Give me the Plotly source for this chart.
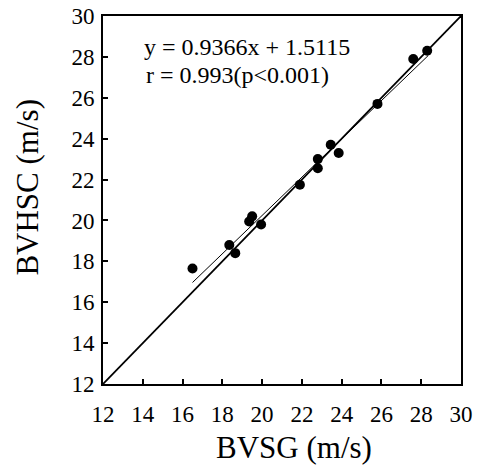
import plotly.graph_objects as go

# Data
bvsg = [16.5, 18.35, 18.65, 19.35, 19.5, 19.95, 21.9, 22.8, 22.8, 23.45, 23.85, 25.8, 27.6, 28.3]
bvhsc = [17.65, 18.8, 18.4, 19.95, 20.2, 19.8, 21.75, 22.55, 23.0, 23.7, 23.3, 25.7, 27.9, 28.3]
slope = 0.9366
intercept = 1.5115
fit_x = [16.5, 28.35]
fit_y = [slope * v + intercept for v in fit_x]
identity = [12, 30]
ticks = [12, 14, 16, 18, 20, 22, 24, 26, 28, 30]
eq_text = "y = 0.9366x + 1.5115"
r_text = "r = 0.993(p<0.001)"
x_title = "BVSG (m/s)"
y_title = "BVHSC (m/s)"

FONT = "Liberation Serif, serif"

fig = go.Figure()
fig.add_trace(go.Scatter(x=identity, y=identity, mode="lines",
                         line=dict(color="black", width=1.8), hoverinfo="skip"))
fig.add_trace(go.Scatter(x=fit_x, y=fit_y, mode="lines",
                         line=dict(color="black", width=1), hoverinfo="skip"))
fig.add_trace(go.Scatter(x=bvsg, y=bvhsc, mode="markers",
                         marker=dict(color="black", size=10)))

fig.add_annotation(x=13.97, y=28.5, xref="x", yref="y", text=eq_text, showarrow=False,
                   xanchor="left", yanchor="middle", font=dict(family=FONT, size=24, color="black"))
fig.add_annotation(x=14.08, y=27.1, xref="x", yref="y", text=r_text, showarrow=False,
                   xanchor="left", yanchor="middle", font=dict(family=FONT, size=24, color="black"))

# axis titles placed as annotations to match the reference offsets
fig.add_annotation(x=0.533, y=-0.172, xref="paper", yref="paper", text=x_title, showarrow=False,
                   xanchor="center", yanchor="middle", font=dict(family=FONT, size=31, color="black"))
fig.add_annotation(x=-0.212, y=0.534, xref="paper", yref="paper", text=y_title, showarrow=False,
                   textangle=-90, xanchor="center", yanchor="middle",
                   font=dict(family=FONT, size=31, color="black"))

axis_common = dict(range=[12, 30], tickvals=ticks, ticks="inside", ticklen=5, tickwidth=1.5,
                   tickcolor="black", showline=True, linecolor="black", linewidth=2, mirror=True,
                   showgrid=False, zeroline=False, automargin=False,
                   tickfont=dict(family=FONT, size=23, color="black"))

fig.update_xaxes(**axis_common, ticklabelstandoff=8)
fig.update_yaxes(**axis_common, ticklabelstandoff=2)

fig.update_layout(width=484, height=467, showlegend=False,
                  margin=dict(l=103, r=23, t=16, b=83),
                  font=dict(family=FONT, color="black"),
                  plot_bgcolor="white", paper_bgcolor="white")

fig.write_html("out.html", config={"displayModeBar": False},
               post_script="document.body.style.margin='0';")
